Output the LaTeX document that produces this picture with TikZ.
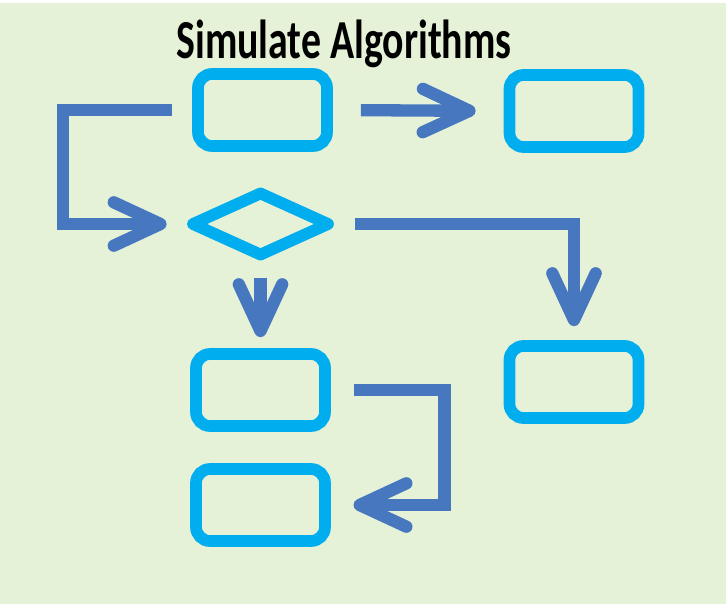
\documentclass[tikz,border=0pt]{standalone}
\usepackage{fontspec,graphicx}
\newfontfamily\titlefont{Carlito}
\usetikzlibrary{arrows.meta,shapes.geometric}
\definecolor{boxblue}{HTML}{00AEEF}
\definecolor{flowblue}{HTML}{4677BF}
\definecolor{bggreen}{HTML}{E6F2D8}

\begin{document}
\begin{tikzpicture}[x=0.03cm,y=-0.03cm,
  b/.style={draw=boxblue,line width=10pt,rounded corners=0.42cm,minimum width=3.87cm,minimum height=2.16cm,inner sep=0pt},
  d/.style={draw=boxblue,line width=10pt,line join=round,shape=diamond,minimum width=4.2cm,minimum height=1.98cm,inner sep=0pt},
  f/.style={draw=flowblue,line width=10.5pt,-{Straight Barb[length=1.4cm,width=1.3cm,round]}}]
\fill[bggreen] (0,0) rectangle (726,604);
\fill[white] (0,0) rectangle (726,3);
\node[anchor=base] (title) at (344,58) {\scalebox{1}[1.38]{\titlefont\bfseries\fontsize{34}{40}\selectfont Simulate Algorithms}};
\node[b] (s) at (262.5,110) {};
\node[b] (r) at (574,111) {};
\node[d] (c) at (260.5,224) {};
\node[b] (y) at (260.5,390) {};
\node[b] (n) at (574,382) {};
\node[b] (e) at (260.5,505) {};
\draw[f,shorten <=0.84cm,shorten >=0.84cm] (s.east)--(r.west);
\draw[f,shorten <=0.6cm,shorten >=0.54cm] (s.west)-- ++(-129,0) |- (c.west);
\draw[f,shorten <=0.57cm,shorten >=0.42cm] (c.east) -| (n.north);
\draw[f,shorten <=0.45cm,shorten >=0.33cm] (c.south)--(y.north);
\draw[f,shorten <=0.68cm,shorten >=0.68cm] (y.east)-- ++(113.5,0) |- (e.east);
\end{tikzpicture}
\end{document}
